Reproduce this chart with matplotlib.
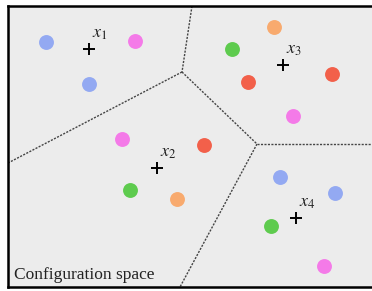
from matplotlib import pyplot as plt

# sample points in the configuration space (pixel-like coordinates, y down)
blue_x = [46, 89, 280, 335]
blue_y = [42, 84, 177, 193]
pink_x = [135, 122, 293, 324]
pink_y = [41, 139, 116, 266]
green_x = [232, 130, 271]
green_y = [49, 190, 226]
orange_x = [274, 177]
orange_y = [27, 199]
red_x = [248, 332, 204]
red_y = [82, 74, 145]

# centroids x_i and their labels
cent_x = [89, 157, 283, 296]
cent_y = [49, 168, 65, 218]
cent_labels = ['$x_1$', '$x_2$', '$x_3$', '$x_4$']

# voronoi edges (x0, y0, x1, y1)
edges = [
    (192, 6, 182, 72),
    (182, 72, 8, 163),
    (182, 72, 257, 144),
    (257, 144, 380, 144),
    (257, 144, 180, 287),
]

plt.rcParams['mathtext.fontset'] = 'stix'

fig = plt.figure(figsize=(3.72, 2.91), dpi=100)
# axes runs past the right edge: the reference has no right border
ax = fig.add_axes([8/372, 4/291, 372/372, 281/291])
ax.set_facecolor('#ececec')
ax.set_xlim(8, 380)
ax.set_ylim(287, 6)
ax.set_xticks([])
ax.set_yticks([])
for s in ['left', 'top', 'bottom']:
	ax.spines[s].set_linewidth(1.8)
ax.spines['right'].set_visible(False)

for x0, y0, x1, y1 in edges:
	ax.plot([x0, x1], [y0, y1], color='#444444', lw=1.0, ls=(0, (1.5, 1.0)))

ms = 115
ax.scatter(blue_x, blue_y, s=ms, color='#93a9f2', zorder=3, lw=0)
ax.scatter(pink_x, pink_y, s=ms, color='#f47ae8', zorder=3, lw=0)
ax.scatter(green_x, green_y, s=ms, color='#5ecb4e', zorder=3, lw=0)
ax.scatter(orange_x, orange_y, s=ms, color='#f8aa6e', zorder=3, lw=0)
ax.scatter(red_x, red_y, s=ms, color='#f2604a', zorder=3, lw=0)

ax.scatter(cent_x, cent_y, marker='+', s=70, color='black', lw=1.4, zorder=4)
for x, y, lab in zip(cent_x, cent_y, cent_labels):
	ax.text(x + 3, y - 7, lab, fontsize=13, ha='left', va='bottom', color='#222222')

ax.text(14, 275, 'Configuration space', fontsize=12.5, family='Liberation Serif',
	ha='left', va='center', color='#222222')

fig.savefig('out.png', dpi=100)
